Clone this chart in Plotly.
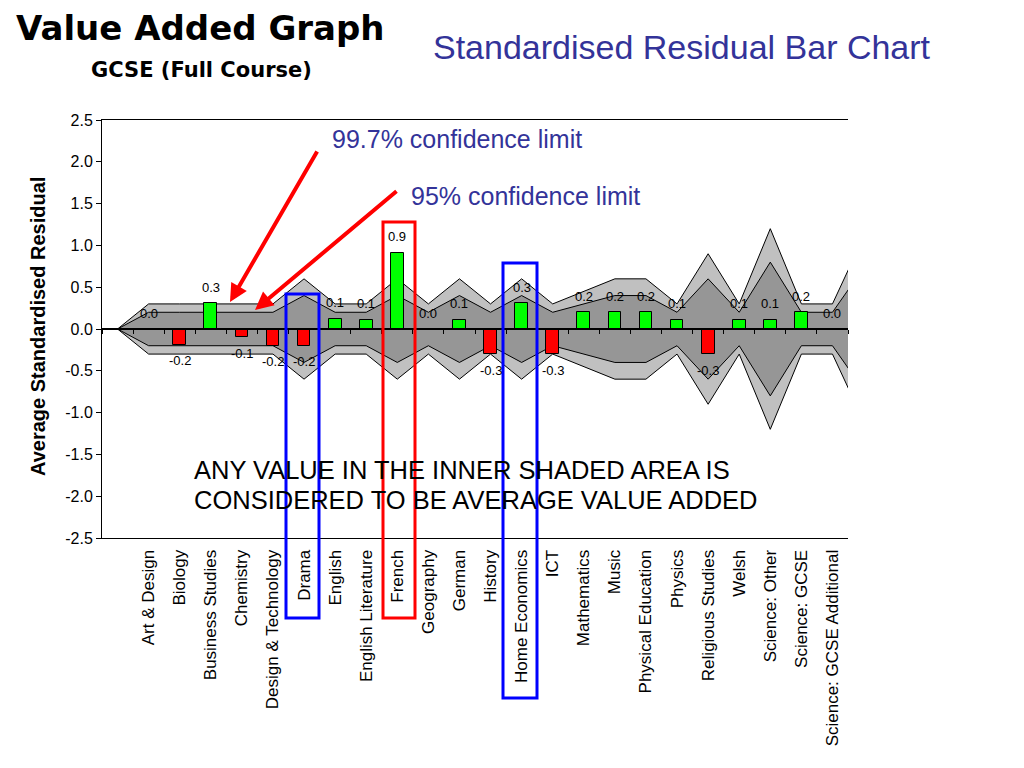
import plotly.graph_objects as go

# ---------------- data ----------------
categories = [
    "Art & Design", "Biology", "Business Studies", "Chemistry",
    "Design & Technology", "Drama", "English", "English Literature",
    "French", "Geography", "German", "History", "Home Economics", "ICT",
    "Mathematics", "Music", "Physical Education", "Physics",
    "Religious Studies", "Welsh", "Science: Other", "Science: GCSE",
    "Science: GCSE Additional",
]
residuals = [0.0, -0.19, 0.31, -0.10, -0.20, -0.20, 0.12, 0.11, 0.91, 0.0,
             0.11, -0.30, 0.31, -0.30, 0.20, 0.20, 0.20, 0.11, -0.30, 0.11,
             0.11, 0.20, 0.0]

# confidence bands: one leading blank point, the 23 subjects, one trailing point
limit_997 = [0.0, 0.3, 0.3, 0.3, 0.3, 0.3, 0.6, 0.3, 0.3, 0.6, 0.3, 0.6, 0.3,
             0.6, 0.3, 0.45, 0.6, 0.6, 0.3, 0.9, 0.3, 1.2, 0.3, 0.3, 1.1]
limit_95 = [0.0, 0.2, 0.2, 0.2, 0.2, 0.2, 0.4, 0.2, 0.2, 0.4, 0.2, 0.4, 0.2,
            0.4, 0.2, 0.3, 0.4, 0.4, 0.2, 0.6, 0.2, 0.8, 0.2, 0.2, 0.73]

y_ticks = [2.5, 2.0, 1.5, 1.0, 0.5, 0.0, -0.5, -1.0, -1.5, -2.0, -2.5]

# ---------------- layout helpers ----------------
W, H = 1024, 768
PL, PR, PT, PB = 102, 848, 120, 538


def px(x):
    return (x - PL) / (PR - PL)


def py(y):
    return (PB - y) / (PB - PT)


ARIAL = "Liberation Sans, Arial, sans-serif"
n = len(categories)
cat_x = list(range(n))
band_x = list(range(-1, n + 1))
x_range = [-1.5, n - 0.5]

fig = go.Figure()


def band(limit, fill):
    xs = band_x + band_x[::-1]
    ys = list(limit) + [-v for v in limit[::-1]]
    return go.Scatter(x=xs, y=ys, mode="lines", fill="toself", fillcolor=fill,
                      line=dict(color="black", width=1), hoverinfo="skip",
                      showlegend=False)


fig.add_trace(band(limit_997, "#C0C0C0"))
fig.add_trace(band(limit_95, "#969696"))

fig.add_trace(go.Bar(
    x=cat_x, y=residuals, xaxis="x2", yaxis="y", width=0.41,
    marker=dict(color=["#00FF00" if v >= 0 else "#FF0000" for v in residuals],
                line=dict(color="black", width=1)),
    showlegend=False, hoverinfo="skip",
))

annotations = []
for i, v in enumerate(residuals):
    annotations.append(dict(
        x=i, y=v, xref="x", yref="y", text=f"{v:.1f}", showarrow=False,
        yshift=16 if v >= 0 else -16, font=dict(family=ARIAL, size=13, color="black"),
    ))

annotations += [
    dict(x=px(200), y=py(28), xref="paper", yref="paper", text="<b>Value Added Graph</b>",
         showarrow=False, xanchor="center", yanchor="middle",
         font=dict(family="DejaVu Sans", size=34, color="black")),
    dict(x=px(201), y=py(70), xref="paper", yref="paper", text="<b>GCSE (Full Course)</b>",
         showarrow=False, xanchor="center", yanchor="middle",
         font=dict(family="DejaVu Sans", size=21, color="black")),
    dict(x=px(682), y=py(47), xref="paper", yref="paper", text="Standardised Residual Bar Chart",
         showarrow=False, xanchor="center", yanchor="middle",
         font=dict(family=ARIAL, size=34, color="#333399")),
    dict(x=px(330), y=py(139), xref="paper", yref="paper", text="99.7% confidence limit",
         showarrow=False, xanchor="left", yanchor="middle",
         font=dict(family=ARIAL, size=25, color="#333399")),
    dict(x=px(409), y=py(196), xref="paper", yref="paper", text="95% confidence limit",
         showarrow=False, xanchor="left", yanchor="middle",
         font=dict(family=ARIAL, size=25, color="#333399")),
    dict(x=px(192), y=py(470), xref="paper", yref="paper",
         text="ANY VALUE IN THE INNER SHADED AREA IS",
         showarrow=False, xanchor="left", yanchor="middle",
         font=dict(family=ARIAL, size=25.5, color="black")),
    dict(x=px(192), y=py(500), xref="paper", yref="paper",
         text="CONSIDERED TO BE AVERAGE VALUE ADDED",
         showarrow=False, xanchor="left", yanchor="middle",
         font=dict(family=ARIAL, size=25.5, color="black")),
    dict(x=px(38), y=py(327), xref="paper", yref="paper",
         text="<b>Average Standardised Residual</b>", textangle=-90,
         showarrow=False, xanchor="center", yanchor="middle",
         font=dict(family=ARIAL, size=20, color="black")),
    # red arrows
    dict(x=px(230), y=py(302), xref="paper", yref="paper", text="",
         showarrow=True, ax=88, ay=-152, axref="pixel", ayref="pixel",
         arrowcolor="#FF0000", arrowwidth=4, arrowhead=2, arrowsize=0.9, standoff=0),
    dict(x=px(255), y=py(310), xref="paper", yref="paper", text="",
         showarrow=True, ax=143, ay=-120, axref="pixel", ayref="pixel",
         arrowcolor="#FF0000", arrowwidth=4, arrowhead=2, arrowsize=0.9, standoff=0),
]

shapes = [
    dict(type="rect", xref="paper", yref="paper", x0=px(286), x1=px(319),
         y0=py(618), y1=py(294), line=dict(color="#0000FF", width=3), layer="above"),
    dict(type="rect", xref="paper", yref="paper", x0=px(383), x1=px(415),
         y0=py(618), y1=py(222), line=dict(color="#FF0000", width=3), layer="above"),
    dict(type="rect", xref="paper", yref="paper", x0=px(503), x1=px(537),
         y0=py(698), y1=py(263), line=dict(color="#0000FF", width=3), layer="above"),
]

fig.update_layout(
    width=W, height=H,
    margin=dict(l=PL, r=W - PR, t=PT, b=H - PB, pad=0),
    paper_bgcolor="white", plot_bgcolor="white",
    showlegend=False,
    bargap=0,
    xaxis=dict(
        range=x_range, tickvals=cat_x, ticktext=categories, tickangle=-90,
        ticks="", showline=True, mirror=True, linecolor="black", linewidth=1,
        showgrid=False, zeroline=False,
        tickfont=dict(family=ARIAL, size=17, color="black"),
        ticklabelstandoff=4,
    ),
    xaxis2=dict(
        range=x_range, overlaying="x", anchor="free", position=0.5,
        tickvals=[k + 0.5 for k in range(-2, n)], ticks="outside", ticklen=4,
        tickcolor="black", tickwidth=1, showticklabels=False,
        showline=True, linecolor="black", linewidth=2,
        showgrid=False, zeroline=False,
    ),
    yaxis=dict(
        range=[y_ticks[-1], y_ticks[0]], tickvals=y_ticks,
        ticktext=[f"{t:.1f}" for t in y_ticks], ticks="outside", ticklen=5,
        tickcolor="black", showline=True, linecolor="black", linewidth=1,
        showgrid=False, zeroline=False,
        tickfont=dict(family=ARIAL, size=16, color="black"),
    ),
    annotations=annotations,
    shapes=shapes,
)

fig.write_html("out.html", config={"displayModeBar": False},
               post_script="document.body.style.margin='0';document.body.style.overflow='hidden';")
